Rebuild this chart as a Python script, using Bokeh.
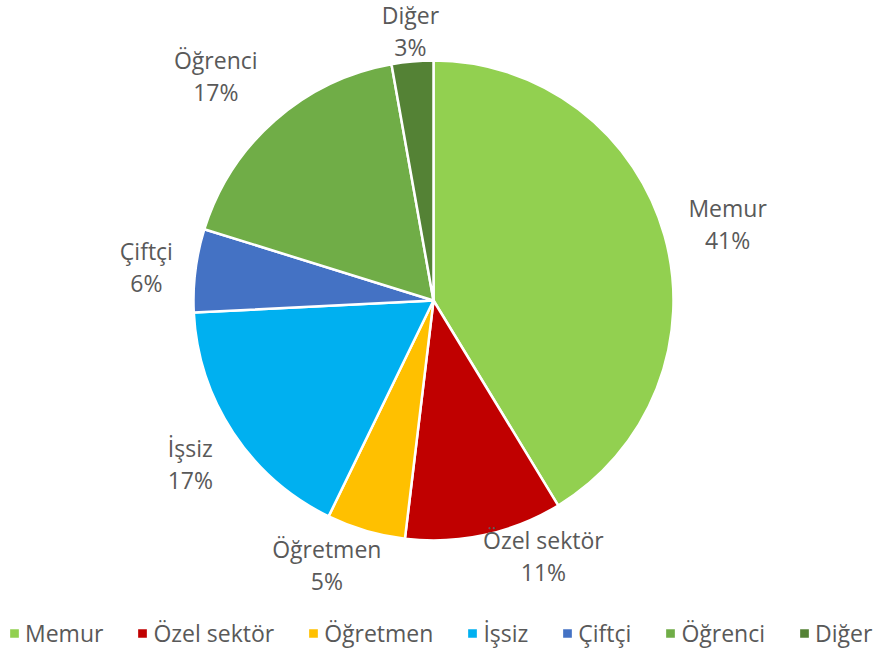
import math
from bokeh.plotting import figure
from bokeh.models import ColumnDataSource, Range1d, Legend, LegendItem
from bokeh.core.properties import value
from bokeh.embed import file_html
from bokeh.resources import INLINE

# ---- data ----
categories = ["Memur", "Özel sektör", "Öğretmen", "İşsiz", "Çiftçi", "Öğrenci", "Diğer"]
values = [41.3, 10.6, 5.3, 17.0, 5.6, 17.4, 2.8]
colors = ["#92D050", "#C00000", "#FFC000", "#00B0F0", "#4472C4", "#70AD47", "#548235"]

# ---- layout (pixels) ----
W, H = 873, 649
cx, cy = 433, H - 300   # pie centre in plot units (1 unit = 1 px)
R = 240
# label block centre offset from the slice's mid-angle rim point (dx right, dy down)
label_offsets = [(63, -10), (59, 23), (-39, 36), (-43, 33), (-49, -1), (-59, -42), (-2, -28)]
LINE_GAP = 32
BASE_SHIFT = 18
TEXT_COLOR = "#595959"
FONT = "Open Sans"
FONT_SIZE = "23px"

total = sum(values)
fracs = [v / total for v in values]
starts, ends, cum = [], [], 0.0
for f in fracs:
    # clockwise from 12 o'clock
    ends.append(math.pi / 2 - 2 * math.pi * cum)
    cum += f
    starts.append(math.pi / 2 - 2 * math.pi * cum)

src = ColumnDataSource(dict(cat=categories, val=values, color=colors,
                            start=starts, end=ends))

p = figure(width=W, height=H, output_backend="svg", toolbar_location=None,
           x_range=Range1d(0, W), y_range=Range1d(0, H),
           x_axis_location=None, y_axis_location=None, min_border=0,
           outline_line_color=None)
p.grid.visible = False
p.background_fill_color = "white"
p.border_fill_color = "white"

w = p.wedge(x=cx, y=cy, radius=R, start_angle="start", end_angle="end",
            fill_color="color", line_color="white", line_width=2.5, source=src)

# labels
nx, ny1, ny2, names, pcts = [], [], [], [], []
cum = 0.0
for i, f in enumerate(fracs):
    mid = cum + f / 2
    cum += f
    th = 2 * math.pi * mid
    rx = cx + R * math.sin(th)
    ry = cy + R * math.cos(th)
    dx, dy = label_offsets[i]
    bx, by = rx + dx, ry - dy
    nx.append(bx)
    ny1.append(by + BASE_SHIFT)
    ny2.append(by + BASE_SHIFT - LINE_GAP)
    names.append(categories[i])
    pcts.append(f"{round(f * 100)}%")

lab = ColumnDataSource(dict(x=nx, y1=ny1, y2=ny2, name=names, pct=pcts))
for col, ycol in (("name", "y1"), ("pct", "y2")):
    p.text(x="x", y=ycol, text=col, source=lab, text_font=value(FONT),
           text_font_size=FONT_SIZE, text_color=TEXT_COLOR, text_align="center",
           text_baseline="alphabetic")

items = [LegendItem(label=categories[i], renderers=[w], index=i) for i in range(len(categories))]
legend = Legend(items=items, orientation="horizontal", location=(7, 0),
                glyph_width=14, glyph_height=14, label_standoff=4, spacing=32,
                padding=0, margin=0, label_text_font=FONT, label_text_font_size=FONT_SIZE,
                label_text_color=TEXT_COLOR, border_line_alpha=0, background_fill_alpha=0,
                label_height=14)
p.add_layout(legend, "center")

open("out.html", "w").write(file_html(p, INLINE))
